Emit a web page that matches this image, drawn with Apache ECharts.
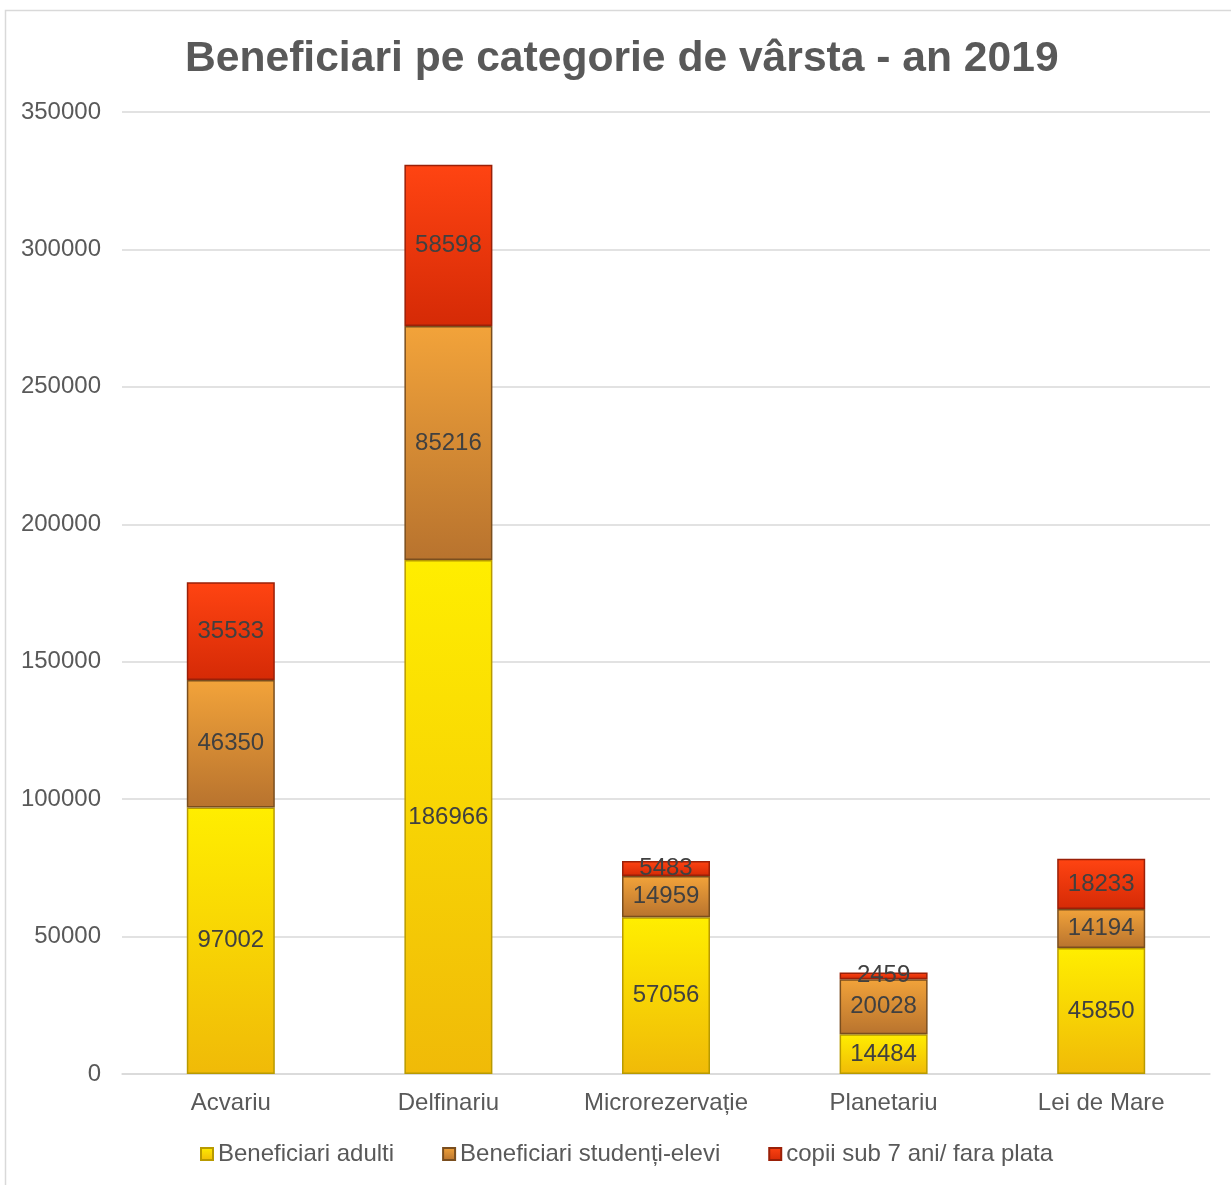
<!DOCTYPE html>
<html>
<head>
<meta charset="utf-8">
<script src="https://cdn.jsdelivr.net/npm/echarts@6/dist/echarts.min.js"></script>
<style>
  html, body { margin: 0; padding: 0; background: #fff; }
  #chart { width: 1231px; height: 1185px; }
</style>
</head>
<body>
<div id="chart"></div>
<script>
// date
const categories = ['Acvariu', 'Delfinariu', 'Microrezervație', 'Planetariu', 'Lei de Mare'];
const adulti = [97002, 186966, 57056, 14484, 45850];
const studenti = [46350, 85216, 14959, 20028, 14194];
const copii = [35533, 58598, 5483, 2459, 18233];
const seriesNames = ['Beneficiari adulti', 'Beneficiari studenți-elevi', 'copii sub 7 ani/ fara plata'];

const chart = echarts.init(document.getElementById('chart'));

// gradient vertical pentru efectul de relief
let grad = function (top, bottom) {
  return new echarts.graphic.LinearGradient(0, 0, 0, 1, [
    { offset: 0, color: top },
    { offset: 1, color: bottom }
  ]);
};

const labelStyle = {
  show: true,
  position: 'inside',
  color: '#404040',
  fontSize: 24,
  fontFamily: 'Liberation Sans, Arial'
};

let makeSeries = function (name, data, top, bottom, border) {
  return {
    name: name,
    type: 'bar',
    stack: 'total',
    barWidth: 88,
    data: data,
    label: labelStyle,
    itemStyle: {
      color: grad(top, bottom),
      borderColor: border,
      borderWidth: 1.5
    }
  };
};

const option = {
  animation: false,
  backgroundColor: '#fff',
  title: {
    text: 'Beneficiari pe categorie de vârsta - an 2019',
    left: 180,
    top: 33,
    textStyle: {
      color: '#595959',
      fontSize: 42.6,
      fontWeight: 'bold',
      fontFamily: 'Liberation Sans, Arial'
    }
  },
  graphic: [{
    type: 'rect',
    shape: { x: 5.5, y: 10.5, width: 1400, height: 1400 },
    style: { fill: 'none', stroke: '#d9d9d9', lineWidth: 1.5 },
    silent: true
  }],
  legend: {
    bottom: 14,
    left: 195,
    itemWidth: 12,
    itemHeight: 12,
    itemGap: 48,
    icon: 'rect',
    textStyle: {
      color: '#595959',
      fontSize: 24,
      fontFamily: 'Liberation Sans, Arial'
    },
    data: seriesNames
  },
  grid: {
    left: 122,
    right: 21,
    top: 112,
    bottom: 111
  },
  xAxis: {
    type: 'category',
    data: categories,
    axisTick: { show: false },
    axisLine: { lineStyle: { color: '#d9d9d9', width: 1.5 } },
    axisLabel: {
      color: '#595959',
      fontSize: 24,
      margin: 17,
      fontFamily: 'Liberation Sans, Arial'
    }
  },
  yAxis: {
    type: 'value',
    min: 0,
    max: 350000,
    interval: 50000,
    axisLine: { show: false },
    axisTick: { show: false },
    splitLine: { lineStyle: { color: '#d9d9d9', width: 1.5 } },
    axisLabel: {
      color: '#595959',
      fontSize: 24,
      margin: 21,
      fontFamily: 'Liberation Sans, Arial',
      formatter: function (v) { return String(v); }
    }
  },
  series: [
    makeSeries(seriesNames[0], adulti, '#FFEE00', '#F0BA08', '#B89A00'),
    makeSeries(seriesNames[1], studenti, '#F2A33A', '#B8732E', '#7A4E1E'),
    makeSeries(seriesNames[2], copii, '#FF4412', '#D52A06', '#9A2008')
  ]
};

chart.setOption(option);
</script>
</body>
</html>
